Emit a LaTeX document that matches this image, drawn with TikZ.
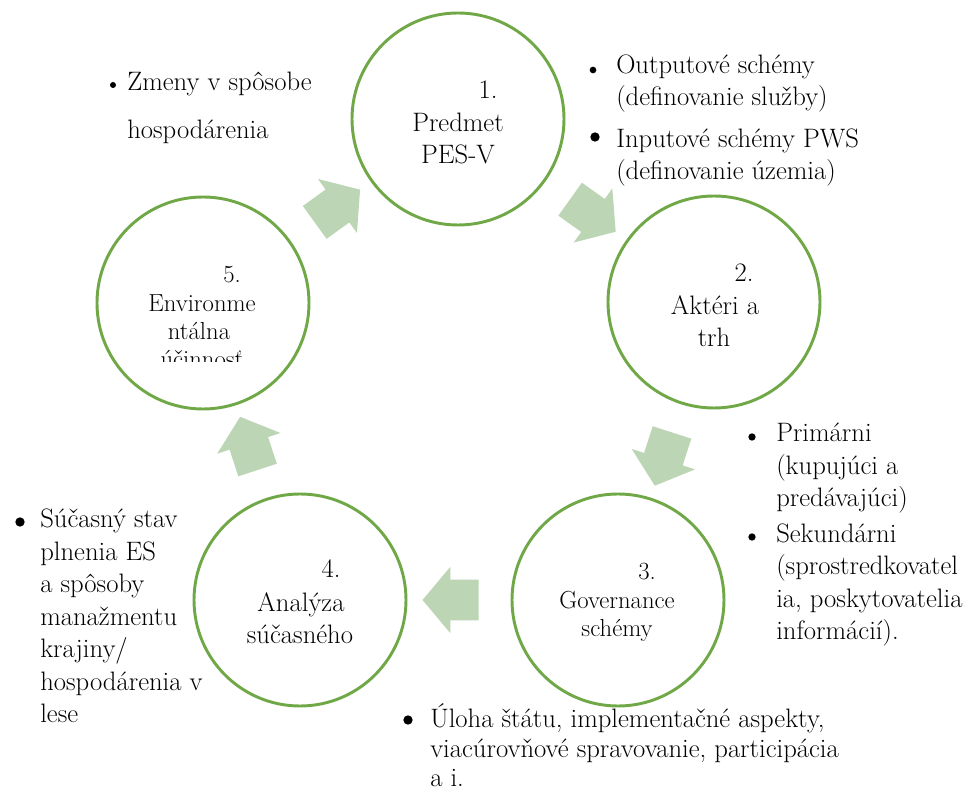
\documentclass[tikz,border=0pt]{standalone}
\usepackage{fontspec}
\usetikzlibrary{shapes.arrows}

\definecolor{ringgreen}{RGB}{112,168,71}
\definecolor{arrowgreen}{RGB}{188,213,181}

\tikzset{
  stage/.style={circle, draw=ringgreen, line width=2.2pt, minimum size=159pt, inner sep=0pt},
  flow/.style={single arrow, fill=arrowgreen, draw=none, inner xsep=0pt, inner ysep=15pt,
    minimum height=42pt, minimum width=49.5pt, single arrow head extend=9.75pt,
    single arrow tip angle=100, sloped, allow upside down},
  bigtext/.style={font=\fontsize{20}{24}\selectfont, inner sep=0pt, anchor=base},
  smalltext/.style={font=\fontsize{18.5}{21}\selectfont, inner sep=0pt, anchor=base},
  itemtext/.style={font=\fontsize{20}{24.4}\selectfont, align=left, inner sep=0pt, anchor=base west},
  itemdot/.style={circle, fill=black, inner sep=0pt, minimum size=#1},
  itemdot/.default=5pt
}

\begin{document}
\begin{tikzpicture}[x=0.75pt, y=-0.75pt]
  \useasboundingbox (0,0) rectangle (965,791);

  % the five stages
  \node[stage] (s1) at (458,119) {};
  \node[stage] (s2) at (714,302) {};
  \node[stage] (s3) at (618,600) {};
  \node[stage] (s4) at (300,600) {};
  \node[stage] (s5) at (203,303) {};

  % cycle arrows
  \path (s1) -- node[flow] (f12) {} (s2);
  \path (s2) -- node[flow] (f23) {} (s3);
  \path (s3) -- node[flow] (f34) {} (s4);
  \path (s4) -- node[flow] (f45) {} (s5);
  \path (s5) -- node[flow] (f51) {} (s1);

  % stage texts
  \node[bigtext] (n1) at (488,99) {1.};
  \node[bigtext] (a1) at (458,132) {Predmet};
  \node[bigtext] (b1) at (458,164) {PES-V};

  \node[bigtext] (n2) at (744,282) {2.};
  \node[bigtext] (a2) at (715,315) {Aktéri a};
  \node[bigtext] (b2) at (714,347) {trh};

  \node[smalltext] (n3) at (647,580) {3.};
  \node[smalltext] (a3) at (617,609) {Governance};
  \node[smalltext] (b3) at (617,637) {schémy};

  \node[bigtext] (n4) at (331,578) {4.};
  \node[bigtext] (a4) at (301,612) {Analýza};
  \node[bigtext] (b4) at (300,643) {súčasného};

  \node[smalltext] (n5) at (232,283) {5.};
  \node[smalltext] (a5) at (202,312) {Environme};
  \node[smalltext] (b5) at (199,340) {ntálna};
  \begin{scope}
    \clip (90,190) rectangle (320,362);
    \node[smalltext] (c5) at (202,368) {účinnosť};
  \end{scope}

  % notes (anchored at the baseline of the last line)
  \node[itemdot=4.5pt] (d0) at (113,85) {};
  \node[itemtext] (l0) at (127,139) {Zmeny v spôsobe\\[12pt]hospodárenia};

  \node[itemdot=5pt] (d1) at (593,70) {};
  \node[itemtext] (l1) at (616,106) {Outputové schémy\\(definovanie služby)};
  \node[itemdot=7pt] (d2) at (595,137) {};
  \node[itemtext] (l2) at (616,180) {Inputové schémy PWS\\(definovanie územia)};

  \node[itemdot=5.5pt] (d3) at (752,437) {};
  \node[itemtext] (l3) at (776,507) {Primárni\\(kupujúci a\\predávajúci)};
  \node[itemdot=5.5pt] (d4) at (752,537) {};
  \node[itemtext] (l4) at (776,640) {Sekundárni\\(sprostredkovatel\\ia, poskytovatelia\\informácií).};

  \node[itemdot=7pt] (d5) at (20,522) {};
  \node[itemtext] (l5) at (40,723) {Súčasný stav\\plnenia ES\\a spôsoby\\manažmentu\\krajiny/\\hospodárenia v\\lese};

  \node[itemdot=7pt] (d6) at (408,720) {};
  \node[itemtext, font=\fontsize{20}{22.5}\selectfont] (l6) at (430,787)
    {Úloha štátu, implementačné aspekty,\\viacúrovňové spravovanie, participácia\\a i.};
\end{tikzpicture}
\end{document}
